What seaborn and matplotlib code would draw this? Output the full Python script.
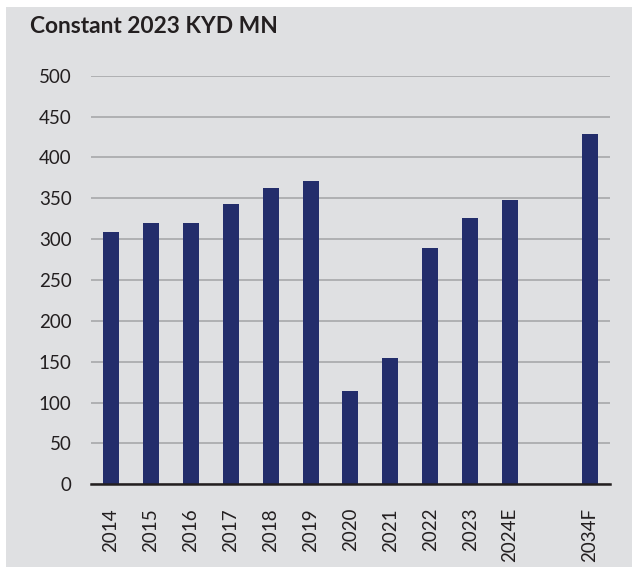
import matplotlib
matplotlib.use('Agg')
import matplotlib.pyplot as plt
import seaborn as sns
import pandas as pd
from matplotlib.patches import Rectangle

# Datos
years = ['2014', '2015', '2016', '2017', '2018', '2019', '2020', '2021',
         '2022', '2023', '2024E', '2034F']
values = [309, 320, 320, 343, 363, 371, 114, 155, 289, 326, 348, 429]
y_ticks = [0, 50, 100, 150, 200, 250, 300, 350, 400, 450, 500]
title = 'Constant 2023 KYD MN'

# hueco entre 2024E y 2034F
order = years[:11] + [' '] + years[11:]

df = pd.DataFrame({'Year': years, 'Value': values})

bg = '#dfe0e2'
navy = '#232d6b'
txt = '#231f20'

sns.set_style('white')
plt.rcParams['font.family'] = ['Lato', 'DejaVu Sans']

fig = plt.figure(figsize=(6.32, 5.67), dpi=100)
fig.patch.set_facecolor('white')
fig.patches.append(Rectangle((6 / 632, 0), 1, 1 - 7 / 567, transform=fig.transFigure,
                             facecolor=bg, edgecolor='none', zorder=-10))

ax = fig.add_axes([0.144, 0.1459, 0.821, 0.7206])
ax.patch.set_alpha(0)

sns.barplot(data=df, x='Year', y='Value', order=order, color=navy,
            width=0.4, saturation=1, linewidth=0, edgecolor=navy, ax=ax, zorder=3)

ax.set_ylim(0, 500)
ax.set_xlim(-0.5, len(order) - 0.5)
ax.set_yticks(y_ticks)
ax.yaxis.grid(True, color='#a2a3a5', linewidth=1.1)
ax.set_axisbelow(True)
for s in ['top', 'right', 'left']:
    ax.spines[s].set_visible(False)
ax.spines['bottom'].set_color(txt)
ax.spines['bottom'].set_linewidth(1.8)
ax.spines['bottom'].set_zorder(5)

ax.set_xlabel('')
ax.set_ylabel('')
ax.tick_params(axis='y', length=0, pad=14, labelsize=13.5, labelcolor=txt)
ax.tick_params(axis='x', length=0, pad=17, labelsize=13.5, labelcolor=txt)
plt.setp(ax.get_xticklabels(), rotation=90, va='top', ha='center')

fig.text(30 / 632, 1 - 33 / 567, title, fontsize=16.4, fontweight='bold',
         color=txt, ha='left', va='baseline')

fig.savefig('out.png', dpi=100)
